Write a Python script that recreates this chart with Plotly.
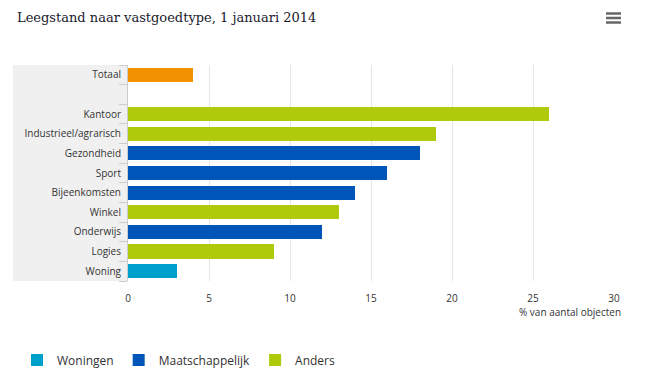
import plotly.graph_objects as go

categories = ["Totaal", " ", "Kantoor", "Industrieel/agrarisch", "Gezondheid", "Sport",
              "Bijeenkomsten", "Winkel", "Onderwijs", "Logies", "Woning"]

totaal_cats = ["Totaal"]
totaal_vals = [4]

woningen_cats = ["Woning"]
woningen_vals = [3]

maatsch_cats = ["Gezondheid", "Sport", "Bijeenkomsten", "Onderwijs"]
maatsch_vals = [18, 16, 14, 12]

anders_cats = ["Kantoor", "Industrieel/agrarisch", "Winkel", "Logies"]
anders_vals = [26, 19, 13, 9]

x_ticks = [0, 5, 10, 15, 20, 25, 30]

# plot-area geometry (pixels)
L, R, T, B = 128, 614, 65, 281
PW, PH = R - L, B - T

def px_x(x):
    return (x - L) / PW

def px_y(y):
    return (B - y) / PH

fig = go.Figure()
fig.add_trace(go.Bar(y=totaal_cats, x=totaal_vals, orientation="h", name="Totaal",
                     marker_color="#F39200", showlegend=False))
fig.add_trace(go.Bar(y=woningen_cats, x=woningen_vals, orientation="h", name="Woningen",
                     marker_color="#00A0CC"))
fig.add_trace(go.Bar(y=maatsch_cats, x=maatsch_vals, orientation="h", name="Maatschappelijk",
                     marker_color="#0055B8"))
fig.add_trace(go.Bar(y=anders_cats, x=anders_vals, orientation="h", name="Anders",
                     marker_color="#AFCA0B"))

fig.update_traces(marker_line_width=0, width=0.72)

fig.update_layout(
    width=650, height=387,
    margin=dict(l=L, r=650 - R, t=T, b=387 - B, autoexpand=False),
    paper_bgcolor="white", plot_bgcolor="white",
    barmode="stack",
    font=dict(family="Open Sans, sans-serif", size=10, color="#333333"),
    title=dict(text="Leegstand naar vastgoedtype, 1 januari 2014",
               font=dict(family="DejaVu Serif, serif", size=13, color="#1a1a2e"),
               x=17 / 650, xanchor="left", y=1 - 17 / 387, yanchor="middle"),
    xaxis=dict(range=[0, 30], tickvals=x_ticks, showgrid=True, gridcolor="#e6e6e6",
               gridwidth=1, zeroline=False, showline=False, ticks="outside", ticklen=8,
               tickcolor="rgba(0,0,0,0)", automargin=False,
               tickfont=dict(size=10, color="#333333"), fixedrange=True),
    yaxis=dict(categoryorder="array", categoryarray=categories, autorange="reversed",
               tickvals=categories, showgrid=False, showline=True, linecolor="#cccccc",
               linewidth=1, ticks="outside", tickson="boundaries", ticklen=8,
               tickcolor="#cccccc", tickfont=dict(size=10, color="#333333"),
               ticklabelstandoff=4, automargin=False, fixedrange=True),
    legend=dict(orientation="h", x=px_x(17), xanchor="left", y=px_y(360), yanchor="middle",
                font=dict(size=12, color="#333333"), itemwidth=30, traceorder="normal"),
    shapes=[
        dict(type="rect", xref="paper", yref="paper", x0=px_x(13), x1=0,
             y0=0, y1=1, fillcolor="#f0f0f0", line_width=0, layer="below"),
    ],
    annotations=[
        dict(text="% van aantal objecten", xref="paper", yref="paper", x=px_x(623),
             xanchor="right", y=px_y(312), yanchor="middle", showarrow=False,
             font=dict(size=10, color="#333333")),
    ],
)

# hamburger menu icon lines
for yy in (13.5, 18, 22.5):
    fig.add_shape(type="line", xref="paper", yref="paper",
                  x0=px_x(606), x1=px_x(621), y0=px_y(yy), y1=px_y(yy),
                  line=dict(color="#666666", width=2.5))

fig.write_html("out.html", config={"displayModeBar": False},
               post_script="document.body.style.margin='0';")
